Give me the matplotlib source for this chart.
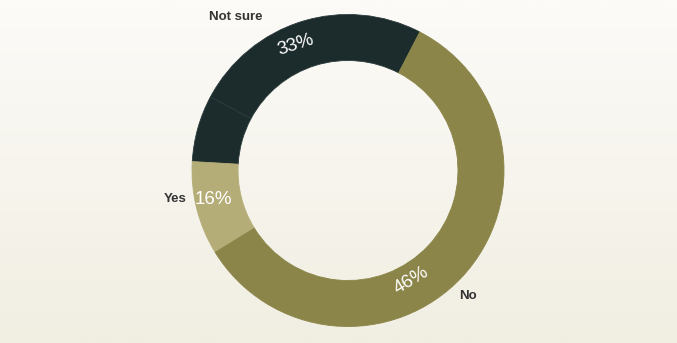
import numpy as np
import matplotlib
matplotlib.use("Agg")
import matplotlib.pyplot as plt
from matplotlib.colors import LinearSegmentedColormap

plt.rcParams['font.family'] = ['Liberation Sans', 'DejaVu Sans']

# Data (slice sizes as drawn; label texts as printed)
categories = ["Not sure", "", "Yes", "No"]
slice_values = [24.8, 6.9, 9.7, 58.6]
pct_labels = ["33%", "", "16%", "46%"]
colors = ["#1c2b2c", "#1c2b2c", "#b4ad77", "#8b8549"]

W, H = 677, 343
fig = plt.figure(figsize=(W / 100, H / 100), dpi=100)
ax = fig.add_axes([0, 0, 1, 1])

# background gradient (white top -> cream bottom)
cmap = LinearSegmentedColormap.from_list("bg", ["#fcfbf8", "#f1eee2"])
grad = np.linspace(0, 1, 256).reshape(-1, 1)
ax.imshow(grad, cmap=cmap, extent=[0, W, 0, H], origin="upper", aspect="auto", zorder=0)

cx, cy, R = 348, H - 170.5, 156
wedges, _ = ax.pie(slice_values, colors=colors, startangle=62.6, counterclock=True,
                   center=(cx, cy), radius=R, frame=True,
                   wedgeprops=dict(width=R * 0.295, linewidth=0.6))
edge_cols = ["#2a3a3b", "#2a3a3b", "#b4ad77", "#8b8549"]
for w, ec in zip(wedges, edge_cols):
    w.set_zorder(2)
    w.set_edgecolor(ec)
ax.set_xlim(0, W)
ax.set_ylim(0, H)
ax.set_aspect("equal")
ax.axis("off")

# category labels
lab_kw = dict(fontsize=9.5, color="#333333", ha="center", va="center", zorder=3, fontweight="bold")
ax.text(236, H - 17, categories[0], **lab_kw)
ax.text(175, H - 199, categories[2], **lab_kw)
ax.text(468, H - 296, categories[3], **lab_kw)

# percentage labels
pct_kw = dict(fontsize=13.5, color="white", ha="center", va="center", zorder=3)
ax.text(296, H - 45, pct_labels[0], rotation=18, **pct_kw)
ax.text(213, H - 200, pct_labels[2], rotation=0, **pct_kw)
ax.text(411, H - 280, pct_labels[3], rotation=31, **pct_kw)

fig.savefig("out.png", dpi=100)
